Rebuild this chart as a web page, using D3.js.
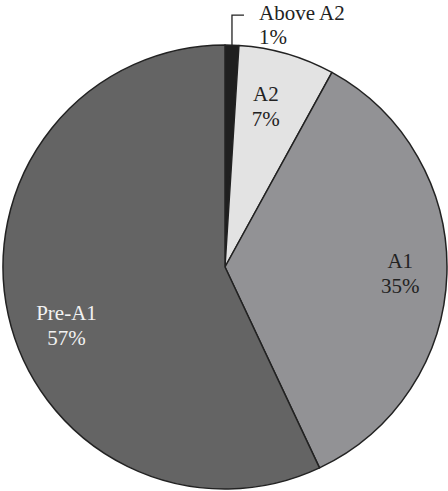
<!DOCTYPE html>
<html>
<head>
<meta charset="utf-8">
<script src="https://cdn.jsdelivr.net/npm/d3@7/dist/d3.min.js"></script>
<style>
  html, body { margin: 0; padding: 0; background: #fff; }
  svg { display: block; }
  text { font-family: "Liberation Serif", "Times New Roman", serif; font-size: 21px; }
</style>
</head>
<body>
<svg id="chart" width="448" height="491"></svg>
<script>
// ---- data ----
const categories = ["Above A2", "A2", "A1", "Pre-A1"];
const values = [1, 7, 35, 57];
const percentLabels = ["1%", "7%", "35%", "57%"];

// ---- styling / layout ----
const colors = ["#1f1f1f", "#e3e3e3", "#929295", "#646464"];
const textColors = ["#222", "#222", "#222", "#f2f2f2"];
const cx = 225, cy = 267, radius = 222;
// label placement: radius factor and angle offset (rad)
const labelLayout = {
  "A2":     { r: 0.75, da: -0.035 },
  "A1":     { r: 0.79, da: 0.0 },
  "Pre-A1": { r: 0.76, da: -0.13 }
};

const svg = d3.select("#chart");
const g = svg.append("g").attr("transform", `translate(${cx},${cy})`);

const pie = d3.pie().sort(null).value(d => d.value);
const data = categories.map((c, i) => ({ cat: c, value: values[i], pct: percentLabels[i], i }));
const arcs = pie(data);
const arc = d3.arc().innerRadius(0).outerRadius(radius);

g.selectAll("path.slice")
  .data(arcs)
  .join("path")
  .attr("class", "slice")
  .attr("d", arc)
  .attr("fill", d => colors[d.data.i])
  .attr("stroke", "#222")
  .attr("stroke-width", 1.5)
  .attr("stroke-linejoin", "round");

// inside labels
arcs.forEach(a => {
  const lay = labelLayout[a.data.cat];
  if (!lay) return;
  const mid = (a.startAngle + a.endAngle) / 2 + lay.da;
  const r = radius * lay.r;
  const x = r * Math.sin(mid);
  const y = -r * Math.cos(mid);
  const t = g.append("text")
    .attr("text-anchor", "middle")
    .attr("fill", textColors[a.data.i]);
  t.append("tspan").attr("x", x).attr("y", y - 5).text(a.data.cat);
  t.append("tspan").attr("x", x).attr("y", y + 20).text(a.data.pct);
});

// outside label with leader line for the small slice
const small = arcs[0];
const midS = (small.startAngle + small.endAngle) / 2;
const ex = radius * Math.sin(midS);
const ey = -radius * Math.cos(midS);
const elbowY = ey - 30;
g.append("path")
  .attr("d", `M${ex},${ey} L${ex},${elbowY} L${ex + 12},${elbowY}`)
  .attr("fill", "none")
  .attr("stroke", "#222")
  .attr("stroke-width", 1.3);
const ot = g.append("text").attr("text-anchor", "start").attr("fill", "#222");
ot.append("tspan").attr("x", ex + 27).attr("y", elbowY + 5).text(small.data.cat);
ot.append("tspan").attr("x", ex + 27).attr("y", elbowY + 29).text(small.data.pct);
</script>
</body>
</html>
